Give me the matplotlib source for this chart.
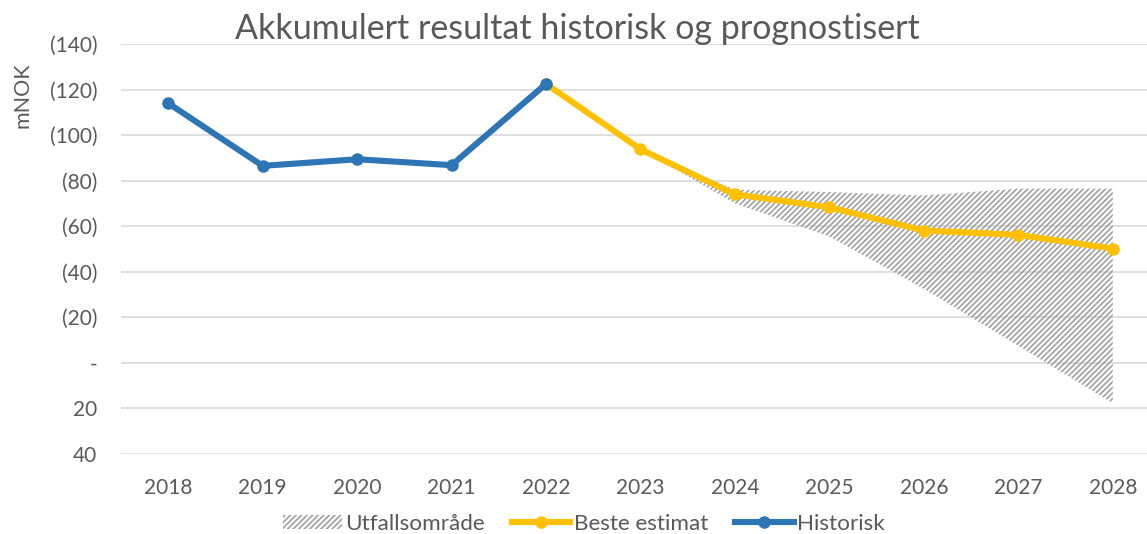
import matplotlib
matplotlib.use("Agg")
import matplotlib.pyplot as plt
from matplotlib.ticker import FuncFormatter, MultipleLocator
from matplotlib.lines import Line2D
from matplotlib.patches import Patch
import numpy as np

years = ["2018", "2019", "2020", "2021", "2022", "2023", "2024", "2025", "2026", "2027", "2028"]
historisk = [-114.0, -86.5, -89.4, -86.8, -122.5, None, None, None, None, None, None]
beste_estimat = [None, None, None, None, -122.5, -93.8, -74.0, -68.3, -58.1, -56.2, -50.2]
utfall_upper = [None, None, None, None, None, -93.8, -76.0, -75.0, -73.5, -76.5, -76.5]
utfall_lower = [None, None, None, None, None, -93.8, -70.0, -55.5, -32.5, -7.5, 17.7]

TXT = "#595959"
BLUE = "#2E75B6"
YELLOW = "#FFC000"
GRID = "#D9D9D9"
HATCH = "#A0A0A0"

plt.rcParams['font.family'] = ['Lato', 'DejaVu Sans']
plt.rcParams['hatch.linewidth'] = 1.2

W, H = 1147, 534
fig = plt.figure(figsize=(W / 100, H / 100), dpi=100)
ax = fig.add_axes([121 / W, 80 / H, 1039 / W, 410 / H])

x = np.arange(len(years))

def to_arr(v):
    return np.array([np.nan if a is None else a for a in v], dtype=float)

up = to_arr(utfall_upper)
lo = to_arr(utfall_lower)
m = ~np.isnan(up)
ax.fill_between(x[m], up[m], lo[m], facecolor="none", edgecolor=HATCH, linewidth=0,
                hatch="//////", zorder=2)

be = to_arr(beste_estimat)
mb = ~np.isnan(be)
ax.plot(x[mb], be[mb], color=YELLOW, lw=4.4, marker="o", ms=8, solid_capstyle="round",
        solid_joinstyle="round", zorder=3)

hi = to_arr(historisk)
mh = ~np.isnan(hi)
ax.plot(x[mh], hi[mh], color=BLUE, lw=4.4, marker="o", ms=8, solid_capstyle="round",
        solid_joinstyle="round", zorder=4)

ax.set_xlim(-0.5, len(years) - 0.5)
ax.set_ylim(40, -140)
ax.yaxis.set_major_locator(MultipleLocator(20))

def fmt(v, pos):
    v = int(round(v))
    if v < 0:
        return "(%d)" % (-v)
    if v == 0:
        return "-"
    return "%d" % v

ax.yaxis.set_major_formatter(FuncFormatter(fmt))
ax.set_xticks(x)
ax.set_xticklabels(years)
ax.grid(axis="y", color=GRID, lw=1.2, zorder=0)
ax.set_axisbelow(True)
for s in ax.spines.values():
    s.set_visible(False)
ax.tick_params(axis="both", length=0, colors=TXT, labelsize=15)
ax.tick_params(axis="y", pad=17)
ax.tick_params(axis="x", pad=17)

fig.text(577 / W, 1 - 29 / H, "Akkumulert resultat historisk og prognostisert",
         ha="center", va="center", fontsize=24.5, color=TXT)
fig.text(22 / W, 1 - 95 / H, "mNOK", rotation=90, ha="center", va="center",
         fontsize=15.5, color=TXT)

handles = [
    Patch(facecolor="none", edgecolor=HATCH, linewidth=0, hatch="//////", label="Utfallsområde"),
    Line2D([0], [0], color=YELLOW, lw=4.4, marker="o", ms=8, label="Beste estimat"),
    Line2D([0], [0], color=BLUE, lw=4.4, marker="o", ms=8, label="Historisk"),
]
leg = fig.legend(handles=handles, loc="center", bbox_to_anchor=(584 / W, 1 - 524 / H),
                 ncol=3, frameon=False, fontsize=16.2, handlelength=2.6, handleheight=0.6,
                 handletextpad=0.15, columnspacing=1.2, borderaxespad=0)
for t in leg.get_texts():
    t.set_color(TXT)

fig.savefig("out.png", dpi=100)
